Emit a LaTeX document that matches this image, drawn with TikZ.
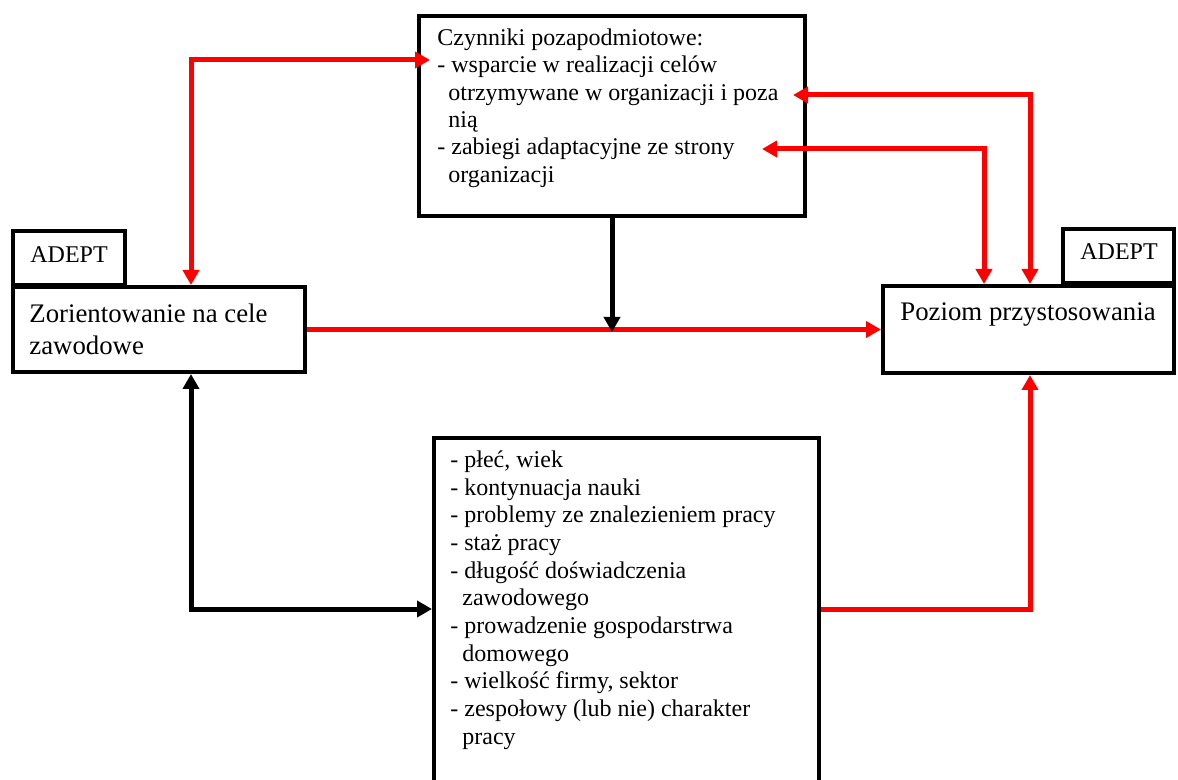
\documentclass[tikz,border=0pt]{standalone}
\usepackage{fontspec}
\setmainfont{Liberation Serif}
\usetikzlibrary{arrows.meta}
\tikzset{
  box/.style={draw=black, line width=2pt, rectangle, inner sep=0pt, fill=white},
  txt/.style={inner sep=0pt, align=left, text=black},
  conn/.style={line width=2.5pt},
  redc/.style={conn, draw={rgb,255:red,255;green,0;blue,0}},
  blkc/.style={conn, draw=black},
  tipR/.style={-{Triangle[length=7.5pt,width=8pt]}},
  tipB/.style={{Triangle[length=7.5pt,width=8pt]}-{Triangle[length=7.5pt,width=8pt]}},
}
\begin{document}
\begin{tikzpicture}[x=0.5pt,y=-0.5pt]
\clip (0,0) rectangle (1178,780);
\fill[white] (0,0) rectangle (1178,780);

% boxes
\node[box, minimum width=193pt, minimum height=100pt] (topbox) at (612,116) {};
\node[box, minimum width=56pt, minimum height=27pt] (ladept) at (69,258) {};
\node[box, minimum width=146pt, minimum height=42.5pt] (leftbox) at (159,329.5) {};
\node[box, minimum width=55.5pt, minimum height=27pt] (radept) at (1118.5,256) {};
\node[box, minimum width=145.5pt, minimum height=43.5pt] (rightbox) at (1028.5,329.5) {};
\node[box, minimum width=192.5pt, minimum height=181pt] (botbox) at (626.5,619) {};

% texts
\node[txt, anchor=north west, font=\fontsize{12}{13.7}\selectfont] (toptext) at (437,25.8) {%
\strut Czynniki pozapodmiotowe:\\
- wsparcie w realizacji celów\\
\hspace*{5.5pt}otrzymywane w organizacji i poza\\
\hspace*{5.5pt}nią\\
- zabiegi adaptacyjne ze strony\\
\hspace*{5.5pt}organizacji};

\node[txt, anchor=north west, font=\fontsize{12}{13.85}\selectfont] (bottext) at (450,447.6) {%
\strut - płeć, wiek\\
- kontynuacja nauki\\
- problemy ze znalezieniem pracy\\
- staż pracy\\
- długość doświadczenia\\
\hspace*{6pt}zawodowego\\
- prowadzenie gospodarstrwa\\
\hspace*{6pt}domowego\\
- wielkość firmy, sektor\\
- zespołowy (lub nie) charakter\\
\hspace*{6pt}pracy};

\node[txt, anchor=base west, font=\fontsize{12}{14}\selectfont] (ladepttext) at (30,263) {ADEPT};
\node[txt, anchor=base west, font=\fontsize{12}{14}\selectfont] (radepttext) at (1080,260) {ADEPT};
\node[txt, anchor=north west, font=\fontsize{13.4}{15.8}\selectfont] (lefttext) at (29,299.9) {%
\strut Zorientowanie na cele\\
zawodowe};
\node[txt, anchor=base west, font=\fontsize{13.4}{15.8}\selectfont] (righttext) at (900,321) {Poziom przystosowania};

% coordinates
\coordinate (a1) at (191,60);
\coordinate (b1) at (1030,95);
\coordinate (t2) at (793,95);
\coordinate (b2) at (984,149);
\coordinate (t3) at (762,149);
\coordinate (m1) at (612,332);
\coordinate (c1) at (191,609);
\coordinate (d1) at (1030,609);

% red connectors
\draw[redc, tipB] (leftbox.north -| a1) -- (a1) -- ([xshift=6.5pt]topbox.west |- a1);
\draw[redc, tipB] (rightbox.north -| b1) -- (b1) -- (t2);
\draw[redc, tipB] (rightbox.north -| b2) -- (b2) -- (t3);
\draw[redc, tipR] (leftbox.east) -- (rightbox.west |- leftbox.east);
\draw[redc, tipR] (botbox.east |- d1) -- (d1) -- (rightbox.south -| d1);

% black connectors
\draw[blkc, tipR] (topbox.south) -- (m1);
\draw[blkc, tipB] (leftbox.south -| c1) -- (c1) -- (botbox.west |- c1);
\end{tikzpicture}
\end{document}
